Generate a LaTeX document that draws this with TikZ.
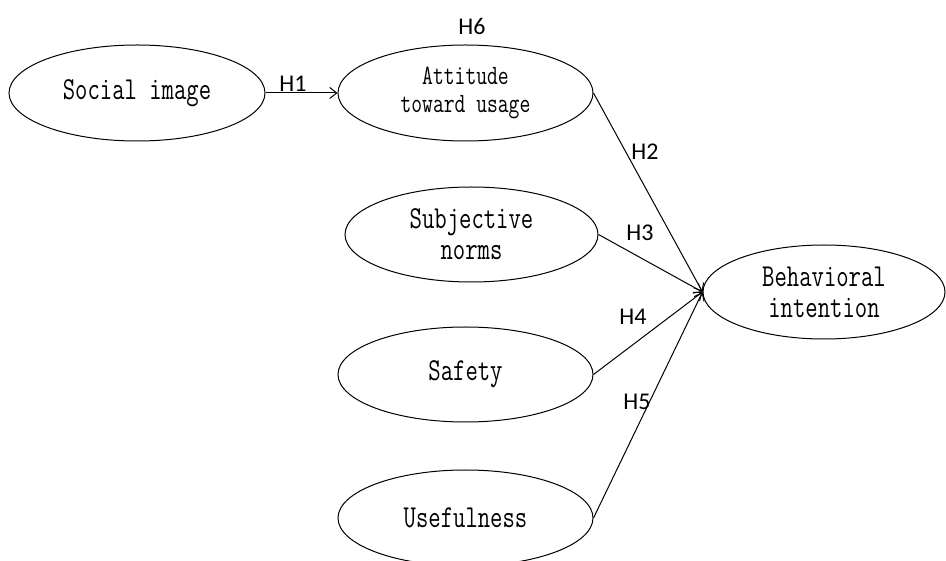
\documentclass[tikz,border=0pt]{standalone}
\usepackage{fontspec}
\usepackage{tikz}
\usetikzlibrary{shapes.geometric,arrows.meta}
\newfontfamily\boxfont[FakeStretch=0.75]{Latin Modern Mono}
\newfontfamily\hypfont{Carlito}

\tikzset{
  construct/.style={draw=black, line width=1pt, ellipse, inner sep=0pt,
    minimum width=255pt, minimum height=95pt, align=center,
    font=\boxfont\fontsize{32}{31}\selectfont},
  hyp/.style={font=\hypfont\fontsize{24}{24}\selectfont, inner sep=0pt},
  path/.style={line width=1pt, -{Straight Barb[length=7pt,width=11pt]}}
}

\begin{document}
\begin{tikzpicture}[x=1pt, y=-1pt]
\clip (0,0) rectangle (946,561);
\node[construct, minimum width=256pt, minimum height=96pt] (social) at (137,93) {Social image};
\node[construct, minimum height=96pt, font=\boxfont\fontsize{28}{28}\selectfont] (attitude) at (465.5,93) {Attitude\\toward usage};
\node[construct, minimum width=253pt] (norms) at (471.5,234.5) {Subjective\\norms};
\node[construct] (safety) at (465.5,374.5) {Safety};
\node[construct, minimum height=96pt] (useful) at (465.5,518) {Usefulness};
\node[construct, minimum width=242pt, minimum height=94pt] (intention) at (824,292) {Behavioral\\intention};

\draw[path] (social) -- (attitude);
\draw[path] (attitude.east) -- (intention.west);
\draw[path] (norms.east) -- (intention.west);
\draw[path] (safety.east) -- (intention.west);
\draw[path] (useful.east) -- (intention.west);

\node[hyp] (h1) at (293,84) {H1};
\node[hyp] (h2) at (645,152) {H2};
\node[hyp] (h3) at (640,233) {H3};
\node[hyp] (h4) at (633,317) {H4};
\node[hyp] (h5) at (637,402) {H5};
\node[hyp] (h6) at (472,26) {H6};
\end{tikzpicture}
\end{document}
